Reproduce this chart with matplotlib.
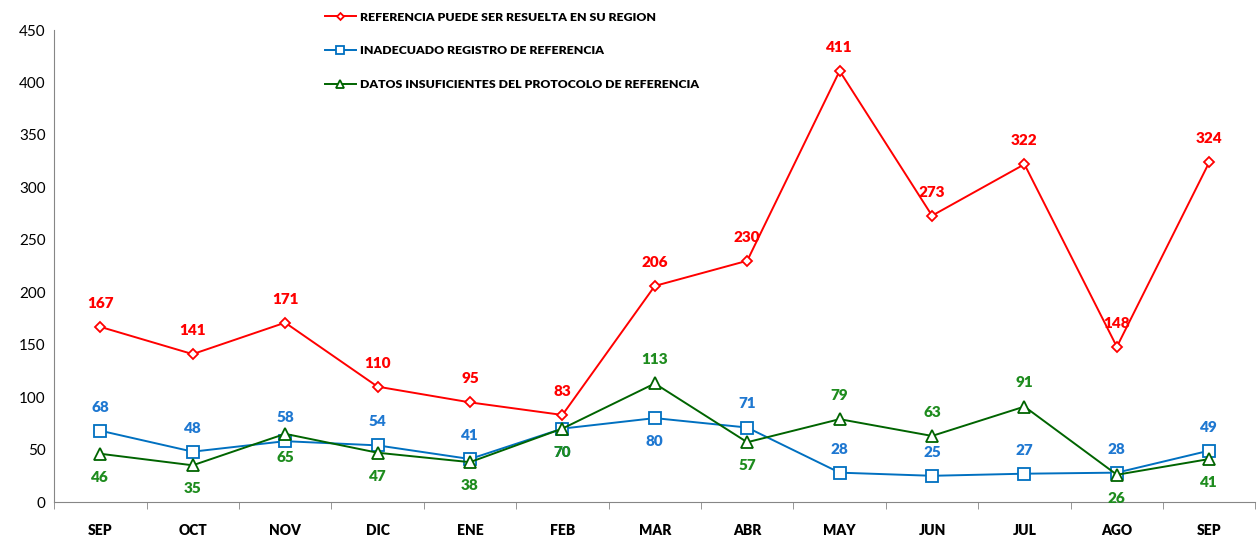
import matplotlib
matplotlib.use('Agg')
import matplotlib.pyplot as plt
import numpy as np

meses = ['SEP', 'OCT', 'NOV', 'DIC', 'ENE', 'FEB', 'MAR', 'ABR', 'MAY', 'JUN', 'JUL', 'AGO', 'SEP']
resuelta_region = [167, 141, 171, 110, 95, 83, 206, 230, 411, 273, 322, 148, 324]
registro_inadecuado = [68, 48, 58, 54, 41, 70, 80, 71, 28, 25, 27, 28, 49]
datos_insuficientes = [46, 35, 65, 47, 38, 70, 113, 57, 79, 63, 91, 26, 41]

# label position per point: +1 above, -1 below
pos_azul = [1, 1, 1, 1, 1, -1, -1, 1, 1, 1, 1, 1, 1]
pos_verde = [-1, -1, -1, -1, -1, -1, 1, -1, 1, 1, 1, -1, -1]

plt.rcParams['font.family'] = ['Lato', 'DejaVu Sans']

fig = plt.figure(figsize=(12.58, 5.36), dpi=100)
ax = fig.add_axes([0.043, 0.0634, 0.955, 0.8806])

x = np.arange(len(meses))

series = [
    (resuelta_region, 'REFERENCIA PUEDE SER RESUELTA EN SU REGION', '#ff0000', '#ff0000', 'D', 5, [1] * 13),
    (registro_inadecuado, 'INADECUADO REGISTRO DE REFERENCIA', '#0070c0', '#1f78d1', 's', 8, pos_azul),
    (datos_insuficientes, 'DATOS INSUFICIENTES DEL PROTOCOLO DE REFERENCIA', '#006400', '#1e8c1e', '^', 8, pos_verde),
]

for valores, nombre, color, color_txt, marca, tam, posiciones in series:
    ax.plot(x, valores, color=color, lw=1.4, marker=marca, markersize=tam,
            markerfacecolor='white', markeredgecolor=color, markeredgewidth=1.3,
            label=nombre, zorder=3)
    for xi, v, p in zip(x, valores, posiciones):
        ax.annotate(str(v), (xi, v), xytext=(0, 17 * p), textcoords='offset points',
                    ha='center', va='center', fontsize=11, fontweight='heavy',
                    color=color_txt, zorder=4)

ax.set_xlim(-0.5, len(meses) - 0.5)
ax.set_ylim(0, 450)
ax.set_yticks(np.arange(0, 451, 50))
ax.set_xticks(x)
ax.set_xticklabels(meses, fontweight='heavy', fontsize=10)
ax.set_xticks(np.arange(-0.5, len(meses), 1), minor=True)
ax.tick_params(axis='x', which='major', length=0, pad=16)
ax.tick_params(axis='x', which='minor', length=5, color='#868686', direction='out')
ax.tick_params(axis='y', length=0, labelsize=11, pad=6)

for lado in ['top', 'right']:
    ax.spines[lado].set_visible(False)
for lado in ['left', 'bottom']:
    ax.spines[lado].set_color('#868686')

ax.legend(loc='upper left', bbox_to_anchor=(0.216, 1.062), frameon=False,
          prop={'weight': 'heavy', 'size': 8.8}, handlelength=2.6,
          labelspacing=1.85, handletextpad=0.3, markerscale=0.7)

fig.savefig('out.png', dpi=100)
